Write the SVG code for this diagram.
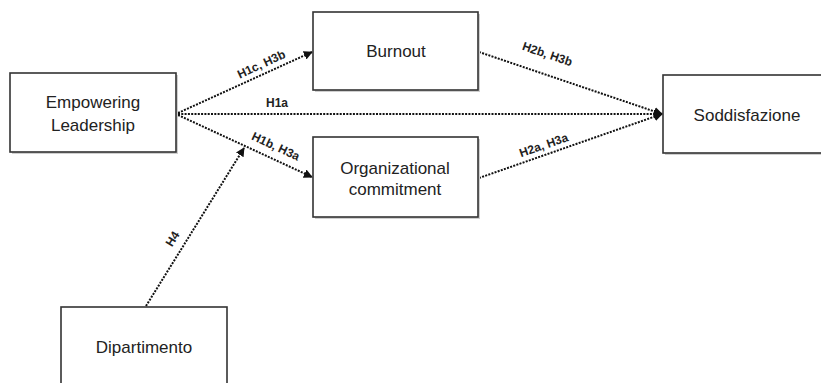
<svg xmlns="http://www.w3.org/2000/svg" width="821" height="383" viewBox="0 0 821 383">
<defs>
<marker id="ah" viewBox="0 0 10 10" refX="9" refY="5" markerWidth="4.5" markerHeight="4.5" orient="auto" markerUnits="strokeWidth">
<path d="M0,0 L10,5 L0,10 Z" fill="#111"/>
</marker>
<style>
.box{fill:#fff;stroke:#333;stroke-width:1.6}
.sh{fill:#cfcfcf}
.t{font-family:"Liberation Sans",Arial,sans-serif;font-size:17px;fill:#222;text-anchor:middle}
.lbl{font-family:"Liberation Sans",Arial,sans-serif;font-size:12px;font-weight:bold;fill:#222;text-anchor:middle}
.c{fill:none;stroke:#111;stroke-width:2;stroke-dasharray:2 1.3;marker-end:url(#ah)}
</style>
</defs>
<rect width="821" height="383" fill="#fff"/>
<g id="connectors">
<line class="c" x1="178" y1="113" x2="312" y2="52"/>
<line class="c" x1="178" y1="114" x2="662" y2="114"/>
<line class="c" x1="178" y1="115" x2="312" y2="177"/>
<line class="c" x1="479" y1="52" x2="662" y2="114"/>
<line class="c" x1="479" y1="178" x2="662" y2="114"/>
<line class="c" x1="146" y1="306" x2="244" y2="148"/>
<text class="lbl" transform="translate(263,68) rotate(-24.7)">H1c, H3b</text>
<text class="lbl" x="277" y="107">H1a</text>
<text class="lbl" transform="translate(274,150) rotate(25)">H1b, H3a</text>
<text class="lbl" transform="translate(546,58) rotate(18.8)">H2b, H3b</text>
<text class="lbl" transform="translate(545,149) rotate(-19)">H2a, H3a</text>
<text class="lbl" transform="translate(176,241) rotate(-58.5)">H4</text>
</g>
<g id="empowering">
<rect class="sh" x="12" y="75" width="166" height="79"/>
<rect class="box" x="10" y="73" width="166" height="79"/>
<text class="t" x="93" y="108">Empowering</text>
<text class="t" x="93" y="131">Leadership</text>
</g>
<g id="burnout">
<rect class="sh" x="315" y="14" width="165" height="78"/>
<rect class="box" x="313" y="12" width="165" height="78"/>
<text class="t" x="396" y="57">Burnout</text>
</g>
<g id="commitment">
<rect class="sh" x="315" y="139" width="165" height="80"/>
<rect class="box" x="313" y="137" width="165" height="80"/>
<text class="t" x="395" y="174">Organizational</text>
<text class="t" x="395" y="195">commitment</text>
</g>
<g id="soddisfazione">
<rect class="sh" x="665" y="77" width="170" height="78"/>
<rect class="box" x="663" y="75" width="170" height="78"/>
<text class="t" x="747" y="121">Soddisfazione</text>
</g>
<g id="dipartimento">
<rect class="box" x="61" y="307" width="166" height="90"/>
<text class="t" x="144" y="353">Dipartimento</text>
</g>
</svg>
